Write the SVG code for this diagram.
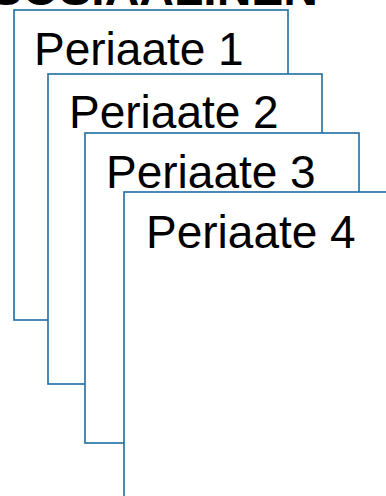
<svg xmlns="http://www.w3.org/2000/svg" width="386" height="496" viewBox="0 0 386 496">
<style>
.box{fill:#ffffff;stroke:#1c6ea4;stroke-width:1.6}
.lbl{font-family:"Liberation Sans",Arial,sans-serif;font-size:46px;fill:#000000}
.title{font-family:"Liberation Sans",Arial,sans-serif;font-size:48px;font-weight:bold;fill:#000000}
</style>
<rect width="386" height="496" fill="#ffffff"/>
<text class="title" x="318" y="5" text-anchor="end">SOSIAALINEN</text>
<g id="periaate1">
<rect class="box" x="14" y="10" width="274" height="310"/>
<text class="lbl" x="34" y="65">Periaate 1</text>
</g>
<g id="periaate2">
<rect class="box" x="48" y="74" width="274" height="310"/>
<text class="lbl" x="69" y="128">Periaate 2</text>
</g>
<g id="periaate3">
<rect class="box" x="85" y="133" width="274" height="310"/>
<text class="lbl" x="106" y="188">Periaate 3</text>
</g>
<g id="periaate4">
<rect class="box" x="124" y="192" width="274" height="310"/>
<text class="lbl" x="146" y="248">Periaate 4</text>
</g>
<g id="connectors"/>
</svg>
